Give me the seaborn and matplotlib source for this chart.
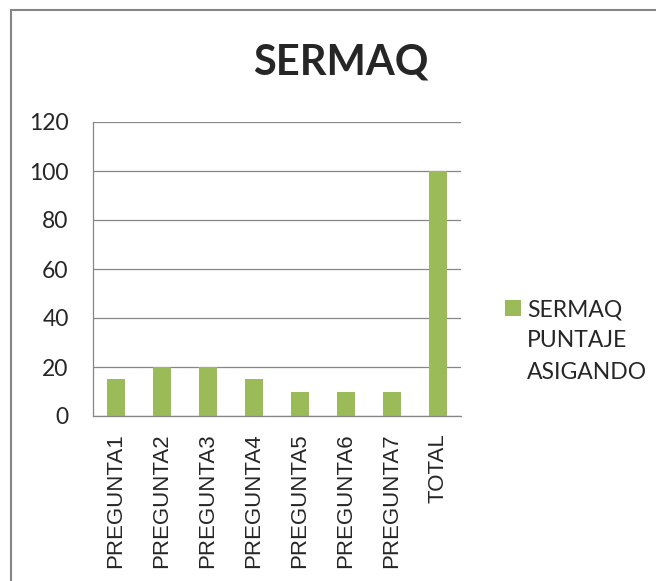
import numpy as np
import pandas as pd
import matplotlib
matplotlib.use('Agg')
import matplotlib.pyplot as plt
from matplotlib.patches import Patch, Rectangle
import seaborn as sns

# Datos
categorias = ['PREGUNTA1', 'PREGUNTA2', 'PREGUNTA3', 'PREGUNTA4',
              'PREGUNTA5', 'PREGUNTA6', 'PREGUNTA7', 'TOTAL']
puntaje = [15, 20, 20, 15, 10, 10, 10, 100]
y_ticks = [0, 20, 40, 60, 80, 100, 120]
titulo = 'SERMAQ'
leyenda = ['SERMAQ', 'PUNTAJE', 'ASIGANDO']

verde = '#9BBB59'
gris = '#868686'

sns.set_style('white')
plt.rcParams['font.family'] = ['Lato', 'DejaVu Sans']

df = pd.DataFrame({'categoria': categorias, 'puntaje': puntaje})

fig = plt.figure(figsize=(6.56, 5.81), dpi=100)
ax = fig.add_axes([93/656, 1 - 416/581, (461 - 93)/656, (416 - 122)/581])

sns.barplot(data=df, x='categoria', y='puntaje', color=verde, saturation=1,
            width=0.37, linewidth=0, ax=ax)

ax.set_xlim(-0.5, len(categorias) - 0.5)
ax.set_ylim(0, 120)
ax.set_yticks(y_ticks)
ax.set_xlabel('')
ax.set_ylabel('')

# Rejilla y ejes
ax.yaxis.grid(True, color=gris, linewidth=0.9)
ax.set_axisbelow(True)
for lado in ['top', 'right']:
    ax.spines[lado].set_visible(False)
for lado in ['left', 'bottom']:
    ax.spines[lado].set_color(gris)
    ax.spines[lado].set_linewidth(0.9)

ax.set_xticks(np.arange(-0.5, len(categorias), 1), minor=True)
ax.tick_params(axis='x', which='major', length=0, pad=12.5)
ax.tick_params(axis='x', which='minor', length=5.5, color=gris, width=0.9)
ax.tick_params(axis='y', length=5.5, color=gris, width=0.9, pad=12,
               labelsize=16.5)
ax.set_xticks(range(len(categorias)))
ax.set_xticklabels(categorias, rotation=90, fontsize=16,
                   family='Liberation Sans')

# Titulo
fig.text(0.52, 1 - 75/581, titulo, ha='center', va='baseline',
         fontsize=30, fontweight='bold')

# Leyenda
handles = [Patch(facecolor=verde, edgecolor='none'),
           Patch(facecolor='none', edgecolor='none'),
           Patch(facecolor='none', edgecolor='none')]
fig.legend(handles, leyenda, loc='upper left',
           bbox_to_anchor=(505/656, 1 - 299/581), frameon=False,
           fontsize=16.5, borderpad=0, borderaxespad=0,
           handlelength=0.68, handleheight=0.68, handletextpad=0.27,
           labelspacing=0.45)

# Borde del area del grafico
fig.patches.append(Rectangle((11/656, -0.1), 1.2, 1.1 - 10/581,
                             transform=fig.transFigure, fill=False,
                             edgecolor=gris, linewidth=1.5))

fig.savefig('out.png', dpi=100)
